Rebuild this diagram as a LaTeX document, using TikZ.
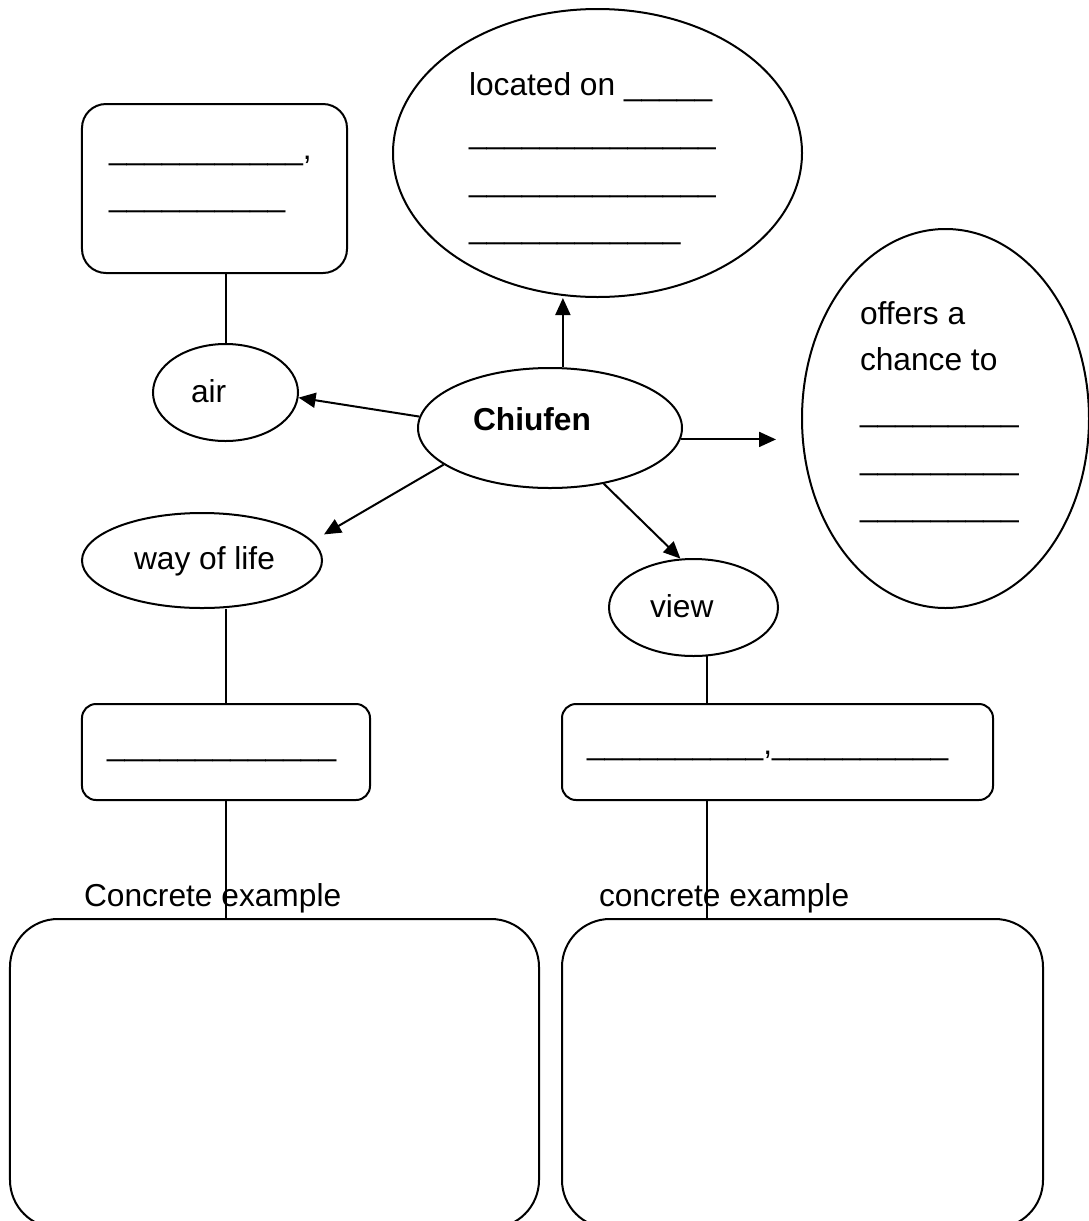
\documentclass[tikz,border=0pt]{standalone}
\usepackage{fontspec}
\setmainfont{Liberation Sans}
\usetikzlibrary{shapes.geometric,arrows.meta}
\begin{document}
\begin{tikzpicture}[x=1bp,y=-1bp,line width=2bp,
  oval/.style={draw,ellipse,inner sep=0pt},
  rbox/.style={draw,rectangle,inner sep=0pt},
  txt/.style={inner sep=0pt,anchor=base west,font=\fontsize{31.7bp}{38bp}\selectfont},
  arr/.style={-{Triangle[length=17bp,width=15bp]}}]
\useasboundingbox (0,0) rectangle (1089,1221);
\clip (0,0) rectangle (1089,1221);

% shapes
\node[rbox,rounded corners=24bp,minimum width=265bp,minimum height=169bp] (tlbox) at (214.5,188.5) {};
\node[oval,minimum width=145bp,minimum height=97bp] (air) at (225.5,392.5) {};
\node[oval,minimum width=409bp,minimum height=288bp] (located) at (597.5,153) {};
\node[oval,minimum width=264bp,minimum height=120bp] (chiufen) at (550,428) {};
\node[oval,minimum width=287bp,minimum height=379bp] (offers) at (945.5,418.5) {};
\node[oval,minimum width=240bp,minimum height=95bp] (way) at (202,560.5) {};
\node[oval,minimum width=169bp,minimum height=97bp] (view) at (693.5,607.5) {};
\node[rbox,rounded corners=14bp,minimum width=288bp,minimum height=96bp] (waybox) at (226,752) {};
\node[rbox,rounded corners=14bp,minimum width=431bp,minimum height=96bp] (viewbox) at (777.5,752) {};
\node[rbox,rounded corners=48bp,minimum width=529bp,minimum height=309bp] (leftbig) at (274.5,1073.5) {};
\node[rbox,rounded corners=48bp,minimum width=481bp,minimum height=309bp] (rightbig) at (802.5,1073.5) {};

% texts
\node[txt] (tl1) at (108,159) {\_\_\_\_\_\_\_\_\_\_\_,};
\node[txt] (tl2) at (108,206) {\_\_\_\_\_\_\_\_\_\_};
\node[txt] (airt) at (190,402) {air};
\node[txt] (loc1) at (468,95) {located on \_\_\_\_\_};
\node[txt] (loc2) at (468,143) {\_\_\_\_\_\_\_\_\_\_\_\_\_\_};
\node[txt] (loc3) at (468,191) {\_\_\_\_\_\_\_\_\_\_\_\_\_\_};
\node[txt] (loc4) at (468,238) {\_\_\_\_\_\_\_\_\_\_\_\_};
\node[txt,font=\fontsize{31.7bp}{38bp}\selectfont\bfseries] (chit) at (472,430) {Chiufen};
\node[txt] (off1) at (859,324) {offers a};
\node[txt] (off2) at (859,370) {chance to};
\node[txt] (off3) at (859,421) {\_\_\_\_\_\_\_\_\_};
\node[txt] (off4) at (859,469) {\_\_\_\_\_\_\_\_\_};
\node[txt] (off5) at (859,516) {\_\_\_\_\_\_\_\_\_};
\node[txt] (wayt) at (133,569) {way of life};
\node[txt] (viewt) at (649,617) {view};
\node[txt] (wayb) at (106,755) {\_\_\_\_\_\_\_\_\_\_\_\_\_};
\node[txt] (viewb) at (586,754) {\_\_\_\_\_\_\_\_\_\_,\_\_\_\_\_\_\_\_\_\_};
\node[txt] (ex1) at (83,906) {Concrete example};
\node[txt] (ex2) at (598,906) {concrete example};

% arrows from the centre
\draw[arr] (chiufen.175) -- (air.-4);
\draw[arr] (chiufen.78) -- (chiufen.78 |- located.south);
\draw[arr,shorten >=25bp] (chiufen.-5) -- (chiufen.-5 -| offers.west);
\draw[arr,shorten >=13bp] (chiufen.199) -- (way.10);
\draw[arr] (chiufen.-46) -- (view.105);

% plain links
\draw (air.north |- tlbox.south) -- (air.north);
\draw (waybox.north |- way.south) -- (waybox.north);
\draw (waybox.south) -- (waybox.south |- leftbig.north);
\draw (view.-75) -- (view.-75 |- viewbox.north);
\draw (view.-75 |- viewbox.south) -- (view.-75 |- rightbig.north);
\end{tikzpicture}
\end{document}
